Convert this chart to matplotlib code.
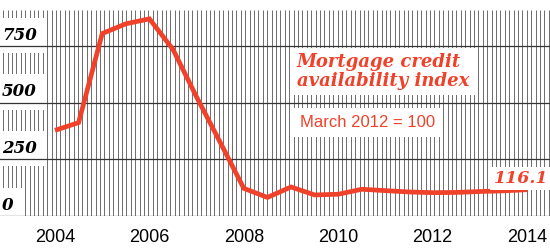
import numpy as np
import matplotlib
matplotlib.use("Agg")
import matplotlib.pyplot as plt

# semiannual readings of the index
years = [2004.0, 2004.5, 2005.0, 2005.5, 2006.0, 2006.5, 2007.0, 2007.5,
         2008.0, 2008.5, 2009.0, 2009.5, 2010.0, 2010.5, 2011.0, 2011.5,
         2012.0, 2012.5, 2013.0, 2013.5, 2014.0]
index = [378, 412, 805, 848, 870, 735, 525, 325,
         122, 82, 128, 93, 96, 118, 112, 106,
         103, 104, 108, 111, 116.1]
y_ticks = [0, 250, 500, 750]
x_ticks = [2004, 2006, 2008, 2010, 2012, 2014]

RED = "#f0412a"
INK = "#333333"
W, H = 550, 249

fig = plt.figure(figsize=(W / 100, H / 100), dpi=100)
ax = fig.add_axes([0, 33 / H, 1, 206 / H])
ax.set_xlim(2002.835, 2014.487)
ax.set_ylim(0, 909)

# striped background
step = 4.4 / 47.2
stripes = np.arange(ax.get_xlim()[0] + 3.2 / 47.2, ax.get_xlim()[1], step)
ax.vlines(stripes, 0, 909, color="#555555", lw=0.6, zorder=1)
for v in y_ticks:
    ax.axhline(v, color=INK, lw=0.9, zorder=5)

ax.plot(years, index, color=RED, lw=3.4, solid_joinstyle="miter",
        solid_capstyle="butt", zorder=6)

for s in ax.spines.values():
    s.set_visible(False)
ax.set_yticks([])
ax.set_xticks(x_ticks)
ax.set_xticklabels([str(t) for t in x_ticks], family="Liberation Sans",
                   fontsize=13)
ax.tick_params(axis="x", length=0, pad=9)

serif = dict(family="DejaVu Serif", weight="bold", style="italic")
for v in y_ticks:
    ax.annotate(str(v), xy=(0, v), xycoords=("axes fraction", "data"),
                xytext=(1.5, 4.5), textcoords="offset points",
                ha="left", va="baseline", fontsize=12, color="black",
                bbox=dict(boxstyle="square,pad=0.55", fc="white", ec="none"),
                zorder=4, **serif)

fig.text(297 / W, 1 - 53 / H, "Mortgage credit\navailability index",
         ha="left", va="top", fontsize=13, color=RED, linespacing=1.05,
         bbox=dict(boxstyle="square,pad=0.3", fc="white", ec="none"),
         zorder=4, **serif)
fig.text(300 / W, 1 - 127 / H, "March 2012 = 100", ha="left",
         va="baseline", fontsize=12, color=RED, family="Liberation Sans",
         bbox=dict(boxstyle="square,pad=0.4", fc="white", ec="none"),
         zorder=4)
fig.text(548 / W, 1 - 183 / H, f"{index[-1]:.1f}", ha="right",
         va="baseline", fontsize=12.5, color=RED,
         bbox=dict(boxstyle="square,pad=0.2", fc="white", ec="none"),
         zorder=4, **serif)

fig.savefig("out.png", dpi=100)
